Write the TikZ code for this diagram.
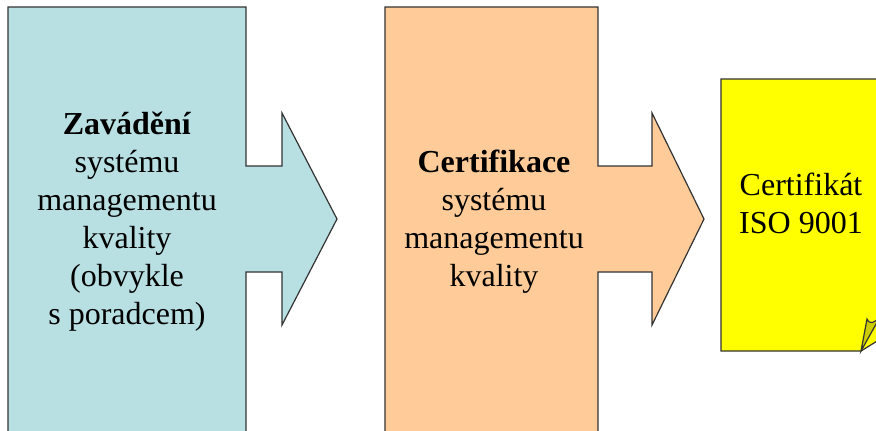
\documentclass[tikz,border=0pt]{standalone}
\usepackage{fontspec}
\setmainfont{Liberation Serif}
\definecolor{stepblue}{RGB}{184,223,226}
\definecolor{steporange}{RGB}{255,204,153}
\definecolor{certyellow}{RGB}{255,255,0}
\definecolor{foldolive}{RGB}{204,204,0}
\tikzset{
	stepshape/.style={draw=black!80, line width=0.6pt, line join=miter},
	steptext/.style={align=center, inner sep=0pt, font=\fontsize{16}{19}\selectfont},
}

\begin{document}
\begin{tikzpicture}[x=0.5pt, y=-0.5pt]
\useasboundingbox (0,0) rectangle (876,430);
\begin{scope}[shift={(0,0)}]
	\draw[stepshape, fill=stepblue] (8,445) -- (8,7) -- (246,7) -- (246,166) -- (282,166) -- (282,113) -- (337,219) -- (282,325) -- (282,272) -- (246,272) -- (246,445);
	\node[steptext] (zavadeni) at (127,222) {\textbf{Zavádění}\\systému\\managementu\\kvality\\(obvykle\\s poradcem)};
\end{scope}
\begin{scope}[shift={(0,0)}]
	\draw[stepshape, fill=steporange] (385,445) -- (385,7) -- (598,7) -- (598,166) -- (652,166) -- (652,113) -- (704,219) -- (652,325) -- (652,272) -- (598,272) -- (598,445);
	\node[steptext] (certifikace) at (494,222) {\textbf{Certifikace}\\systému\\managementu\\kvality};
\end{scope}
\begin{scope}[shift={(0,0)}]
	\draw[stepshape, fill=certyellow] (721,79) -- (895,79) -- (895,330) -- (861,351) -- (721,351) -- cycle;
	\draw[stepshape, fill=foldolive] (861,351) -- (867,319) .. controls (870,325) and (874,323) .. (880,317) -- cycle;
	\node[steptext] (certifikat) at (801,203) {Certifikát\\ISO 9001};
\end{scope}
\end{tikzpicture}
\end{document}
